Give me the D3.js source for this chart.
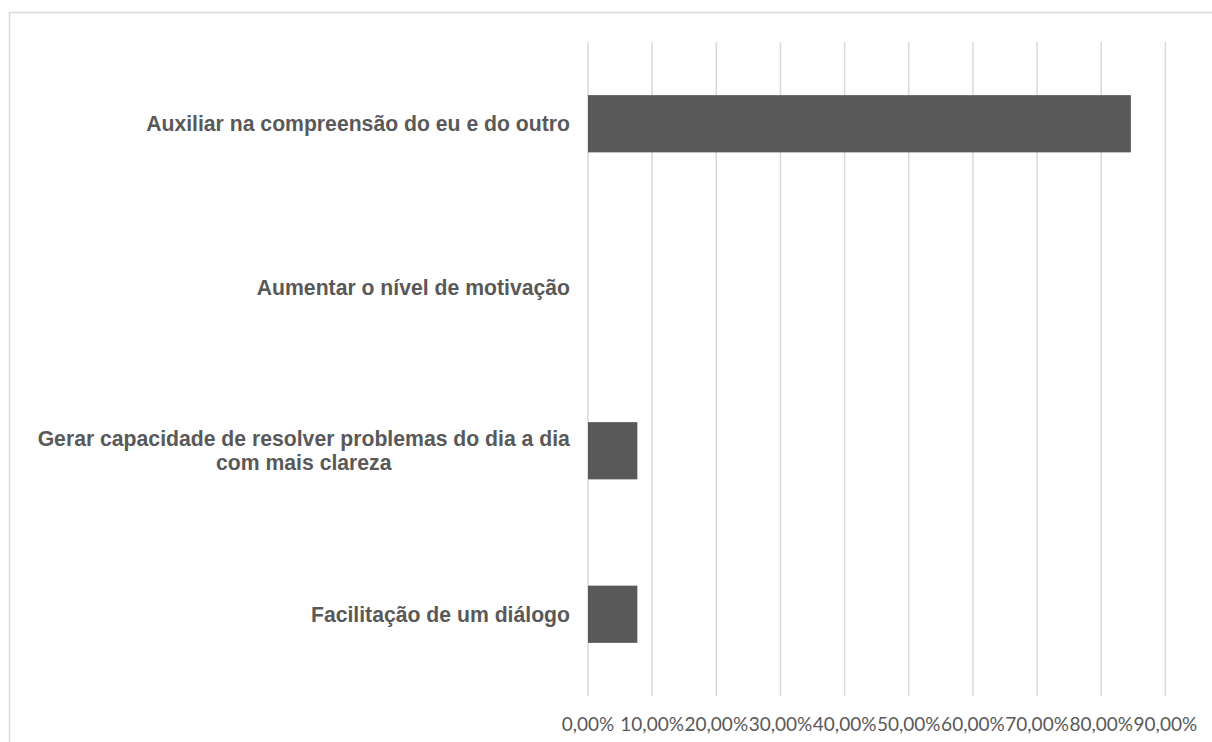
<!DOCTYPE html>
<html>
<head>
<meta charset="utf-8">
<script src="https://cdn.jsdelivr.net/npm/d3@7"></script>
<style>
  body { margin: 0; background: #fff; }
</style>
</head>
<body>
<svg width="1212" height="742"></svg>
<script>
const svg = d3.select("svg");

// Categories, top to bottom, and their shares
const categories = [
    ["Auxiliar na compreensão do eu e do outro"],
    ["Aumentar o nível de motivação"],
    ["Gerar capacidade de resolver problemas do dia a dia", "com mais clareza"],
    ["Facilitação de um diálogo"]
];
const values = [0.8462, 0, 0.0769, 0.0769];
const tickValues = [0, 0.1, 0.2, 0.3, 0.4, 0.5, 0.6, 0.7, 0.8, 0.9];
const tickLabels = ["0,00%", "10,00%", "20,00%", "30,00%", "40,00%", "50,00%", "60,00%", "70,00%", "80,00%", "90,00%"];

const data = categories.map((c, i) => ({ lines: c, key: c.join(" "), value: values[i] }));

const plot = { left: 588, right: 1165.4, top: 42, bottom: 696 };
const grey = "#595959";
const gridColor = "#d9d9d9";

// Chart area border (only top and left are inside the picture)
svg.append("path")
    .attr("d", "M9.5,742 V12.5 H1212")
    .attr("fill", "none")
    .attr("stroke", gridColor)
    .attr("stroke-width", 1.5);

const x = d3.scaleLinear().domain([0, 0.9]).range([plot.left, plot.right]);
const y = d3.scaleBand()
    .domain(data.map(d => d.key))
    .range([plot.top, plot.bottom])
    .paddingInner(0.65)
    .paddingOuter(0.325);

// Gridlines
svg.append("g")
    .selectAll("line")
    .data(tickValues)
    .enter().append("line")
    .attr("x1", d => x(d))
    .attr("x2", d => x(d))
    .attr("y1", plot.top)
    .attr("y2", plot.bottom)
    .attr("stroke", gridColor)
    .attr("stroke-width", 1.5);

// Bars
svg.append("g")
    .selectAll("rect")
    .data(data.filter(d => d.value > 0))
    .enter().append("rect")
    .attr("x", x(0))
    .attr("y", d => y(d.key))
    .attr("width", d => x(d.value) - x(0))
    .attr("height", y.bandwidth())
    .attr("fill", grey);

// Category labels
const lineH = 24;
const catLabels = svg.append("g")
    .selectAll("text")
    .data(data)
    .enter().append("text")
    .attr("text-anchor", "middle")
    .attr("font-family", "'Liberation Sans', Arial, sans-serif")
    .attr("font-weight", "bold")
    .attr("font-size", "21.2px")
    .attr("fill", grey);

catLabels.each(function(d) {
    const t = d3.select(this);
    const cy = y(d.key) + y.bandwidth() / 2;
    const n = d.lines.length;
    d.lines.forEach((line, i) => {
        t.append("tspan")
            .attr("x", 0)
            .attr("y", cy + (i - (n - 1) / 2) * lineH)
            .attr("dy", "0.35em")
            .text(line);
    });
    // right-align the block at x = 570, centre lines within it
    const w = this.getBBox().width;
    t.selectAll("tspan").attr("x", 570 - w / 2);
});

// X-axis tick labels
svg.append("g")
    .selectAll("text")
    .data(tickValues)
    .enter().append("text")
    .attr("x", d => x(d))
    .attr("y", 731)
    .attr("text-anchor", "middle")
    .attr("font-family", "Lato, 'Open Sans', sans-serif")
    .attr("font-size", "19px")
    .attr("fill", grey)
    .text((d, i) => tickLabels[i]);
</script>
</body>
</html>
